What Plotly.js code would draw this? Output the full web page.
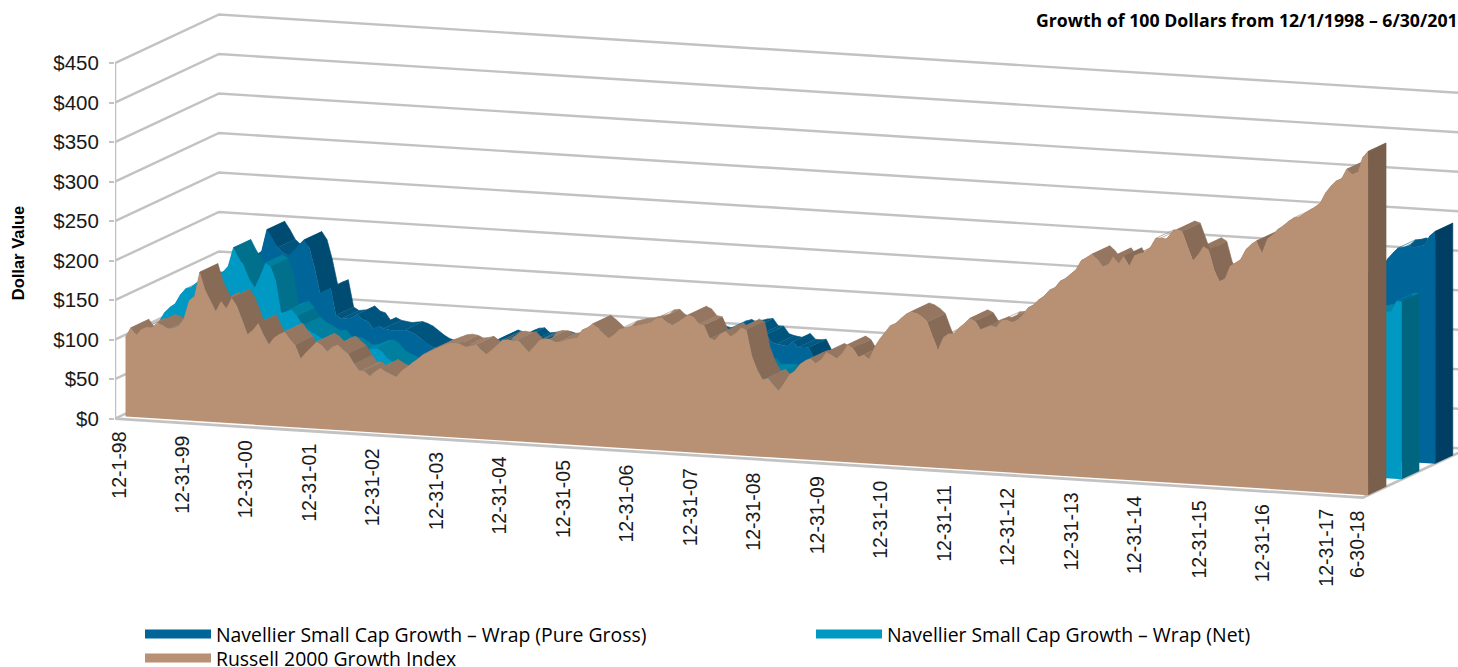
<!DOCTYPE html>
<html><head><meta charset="utf-8">
<script src="https://cdn.plot.ly/plotly-3.0.1.min.js"></script>
<style>html,body{margin:0;padding:0;background:#fff;overflow:hidden}</style>
</head><body><div id="chart" style="width:1458px;height:667px"></div>
<script>
const seriesNames = ["Navellier Small Cap Growth – Wrap (Pure Gross)","Navellier Small Cap Growth – Wrap (Net)","Russell 2000 Growth Index"];
const tickIndex = [0,12,24,36,48,60,72,84,96,108,120,132,144,156,168,180,192,204,216,228,234];
const tickLabels = ["12-1-98","12-31-99","12-31-00","12-31-01","12-31-02","12-31-03","12-31-04","12-31-05","12-31-06","12-31-07","12-31-08","12-31-09","12-31-10","12-31-11","12-31-12","12-31-13","12-31-14","12-31-15","12-31-16","12-31-17","6-30-18"];
const dollarTicks = [0,50,100,150,200,250,300,350,400,450];
const russell = [
100,113,104,112,115,115,121,119,115,116,
119,129,152,158,189,167,153,141,154,145,
159,149,132,114,120,129,115,103,112,117,
120,111,104,88,96,103,110,106,99,105,
108,102,97,86,77,77,71,77,82,78,
75,72,80,85,91,96,102,106,110,113,
116,119,120,119,116,117,119,114,108,114,
121,127,128,127,128,121,114,122,130,132,
132,129,130,133,135,136,146,149,155,150,
144,138,143,150,152,154,155,157,159,161,
167,168,162,160,164,169,174,171,163,162,
147,144,152,156,150,155,162,159,127,110,
98,100,93,85,95,106,111,120,125,128,
123,128,138,135,131,138,149,145,134,137,
132,147,158,167,176,179,186,192,196,194,
190,184,166,150,166,171,171,179,185,192,
189,179,182,185,183,192,193,190,194,201,
210,214,221,226,234,237,246,250,256,262,
274,278,283,277,268,270,282,273,283,271,
285,288,290,296,308,309,308,316,321,319,
301,283,291,302,298,273,259,262,279,283,
288,301,308,313,298,316,322,329,334,340,
345,346,351,356,360,366,379,388,395,398,
411,405,407,427,435];
const net = [
100,112,119,124,136,144,146,152,156,157,
156,162,168,176,200,187,177,161,151,166,
183,179,161,121,124,126,118,108,102,98,
95,91,93,85,85,84,80,76,77,80,
83,84,80,72,68,66,62,60,58,57,
56,55,56,58,60,63,66,70,72,72,
72,74,76,76,74,75,76,76,75,76,
78,80,81,82,81,80,82,84,85,86,
86,87,88,89,89,90,92,94,92,90,
91,93,94,94,94,94,94,94,92,93,
97,100,101,100,102,104,105,98,98,92,
90,88,87,91,84,85,85,85,80,75,
68,62,58,55,58,60,63,67,70,72,
70,72,76,76,75,78,83,82,78,80,
78,84,90,96,101,103,106,110,112,112,
110,106,98,90,95,98,98,102,106,110,
108,103,105,107,106,110,111,110,112,116,
121,123,127,130,135,137,142,144,148,151,
156,160,163,160,155,157,162,158,163,158,
165,167,168,172,178,178,178,182,185,184,
174,164,168,174,172,158,150,152,161,164,
166,174,178,181,172,182,186,190,193,196,
199,200,203,206,208,205,208,206,207,209,
210,211,212,225,225];
const gross = [
100,110,115,120,128,136,138,145,150,152,
152,158,170,175,203,193,181,175,172,178,
186,193,183,158,127,131,134,100,96,97,
98,103,97,95,86,90,87,86,85,86,
87,85,82,77,72,68,66,65,64,62,
60,58,60,63,66,70,74,80,84,82,
80,85,88,89,83,84,85,86,86,84,
85,87,90,91,92,91,90,92,94,96,
97,97,98,99,100,100,102,104,106,104,
102,103,105,106,106,107,107,106,104,105,
110,114,116,113,116,118,119,110,110,101,
99,98,97,103,96,96,97,84,80,78,
74,70,67,65,66,68,72,76,78,82,
80,83,88,87,85,90,97,95,90,93,
90,98,105,112,118,121,125,130,133,131,
128,120,108,98,105,108,110,116,122,126,
124,118,120,122,121,126,128,126,128,133,
139,142,146,150,156,158,164,166,171,175,
182,186,188,186,180,182,188,182,188,182,
190,192,194,198,206,207,206,212,215,214,
202,190,195,202,200,183,173,175,187,190,
192,202,206,210,199,212,216,220,224,228,
231,232,235,238,241,255,263,270,271,273,
272,274,276,288,294];

// Oblique projection of (month, dollars, depth) onto the flat axes.
const DEPTH_X = 19.585, DEPTH_Y = 61.65, SLOPE = 0.4248, LAST = russell.length - 1;
const px = (m, t) => m + t * DEPTH_X;
const py = (v, m, t) => v - (m + 1) * SLOPE + t * DEPTH_Y;
const GRID = "#C2C2C2";
const traces = [];
function poly(list, color, lw) {
  const x = [], y = [];
  list.forEach(p => { p.forEach(q => { x.push(px(q[0], q[2])); y.push(py(q[1], q[0], q[2])); }); x.push(null); y.push(null); });
  traces.push({type:"scatter", mode:"lines", x, y, fill:"toself", fillcolor:color,
    line:{color, width: lw === undefined ? 0.6 : lw}, hoverinfo:"skip", showlegend:false});
}
function gridLine(pts, w) {
  traces.push({type:"scatter", mode:"lines", x:pts.map(q=>px(q[0],q[2])), y:pts.map(q=>py(q[1],q[0],q[2])),
    line:{color:GRID, width:w||2.4}, hoverinfo:"skip", showlegend:false});
}
// walls and floor
dollarTicks.forEach(v => gridLine([[-1,v,0],[-1,v,1],[LAST,v,1]]));
traces.push({type:"scatter", mode:"lines", x:[-1,-1], y:[0,450], line:{color:GRID, width:2.6}, hoverinfo:"skip", showlegend:false});
gridLine([[-1,0,0],[LAST,0,0],[LAST,0,1]], 2.8);

function band(vals, t0, t1, cols) {
  const b0 = [], b1 = [], b2 = [];
  for (let m = 0; m < LAST; m++) {
    const s = vals[m+1] - vals[m];
    const q = [[m,vals[m],t0],[m+1,vals[m+1],t0],[m+1,vals[m+1],t1],[m,vals[m],t1]];
    (s < -9 ? b2 : s < -1 ? b1 : b0).push(q);
  }
  poly(b0, cols.ridge0); poly(b1, cols.ridge1); poly(b2, cols.ridge2);
  poly([[[LAST,0,t0],[LAST,vals[LAST],t0],[LAST,vals[LAST],t1],[LAST,0,t1]]], cols.cap);
  const f = [[0,0,t0]];
  vals.forEach((v,m) => f.push([m,v,t0]));
  f.push([LAST,0,t0]);
  poly([f], cols.face, 0);
}
band(gross, 0.695, 0.865, {face:"#006699", cap:"#003F63", ridge0:"#005A85", ridge1:"#00557F", ridge2:"#004B72"});
band(net, 0.374, 0.54, {face:"#0099C4", cap:"#006680", ridge0:"#0087A8", ridge1:"#007F9E", ridge2:"#00708C"});
band(russell, 0.05, 0.223, {face:"#B89073", cap:"#7A5F4C", ridge0:"#A08069", ridge1:"#957660", ridge2:"#876B57"});

// legend keys: one legend object per position of the two-column layout
const keyColors = ["#006699","#0099C4","#B89073"], keyLegends = ["legend","legend2","legend3"];
seriesNames.forEach((n,i) => {
  traces.push({type:"scatter", mode:"lines", x:[null], y:[null], name:n, legend:keyLegends[i], line:{color:keyColors[i], width:9}, showlegend:true});
});

const FONT = "Liberation Sans, Arial, sans-serif", LEGFONT = "Open Sans, Arial, sans-serif";
const annotations = tickIndex.map((m,i) => ({
  x: px(m,0), y: py(0,m,0), xref:"x", yref:"y", text: tickLabels[i], showarrow:false,
  textangle:-90, xanchor:"center", yanchor:"top", xshift:-2.2 - 0.016*m, yshift:-11,
  font:{family:FONT, size:19.5, color:"#1a1a1a"}
}));
const legendBase = (xPx, yPx) => ({x:(xPx-115)/1343, y:(506-yPx)/506, xanchor:"left", yanchor:"top", itemwidth:66, bgcolor:"rgba(0,0,0,0)",
          font:{family:LEGFONT, size:19.4, color:"#000"}});

const layout = {
  width:1458, height:667, paper_bgcolor:"#fff", plot_bgcolor:"#fff",
  margin:{l:115, r:0, t:0, b:161, pad:0, autoexpand:false},
  title:{text:"<b>Growth of 100 Dollars from 12/1/1998 – 6/30/2018</b>", x:1036/1458, xanchor:"left", xref:"container",
         y:1-21/667, yref:"container", yanchor:"middle", automargin:false,
         font:{family:LEGFONT, size:17.7, color:"#000"}},
  xaxis:{visible:false, range:[-1,251.92], fixedrange:true},
  yaxis:{range:[-110.5,530], tickmode:"array", tickvals:dollarTicks, ticktext:dollarTicks.map(v=>"$"+v),
         showgrid:false, zeroline:false, showline:false, ticks:"outside", ticklen:5, tickwidth:2, tickcolor:GRID, ticklabelstandoff:6,
         tickfont:{family:FONT, size:20.5, color:"#1a1a1a"}, fixedrange:true,
         title:{text:"<b>Dollar Value</b>", standoff:24, font:{family:FONT, size:16.5, color:"#000"}}},
  legend:legendBase(140,615), legend2:legendBase(811,615), legend3:legendBase(140,639),
  annotations, showlegend:true
};
Plotly.newPlot("chart", traces, layout, {displayModeBar:false, staticPlot:true});
</script></body></html>
